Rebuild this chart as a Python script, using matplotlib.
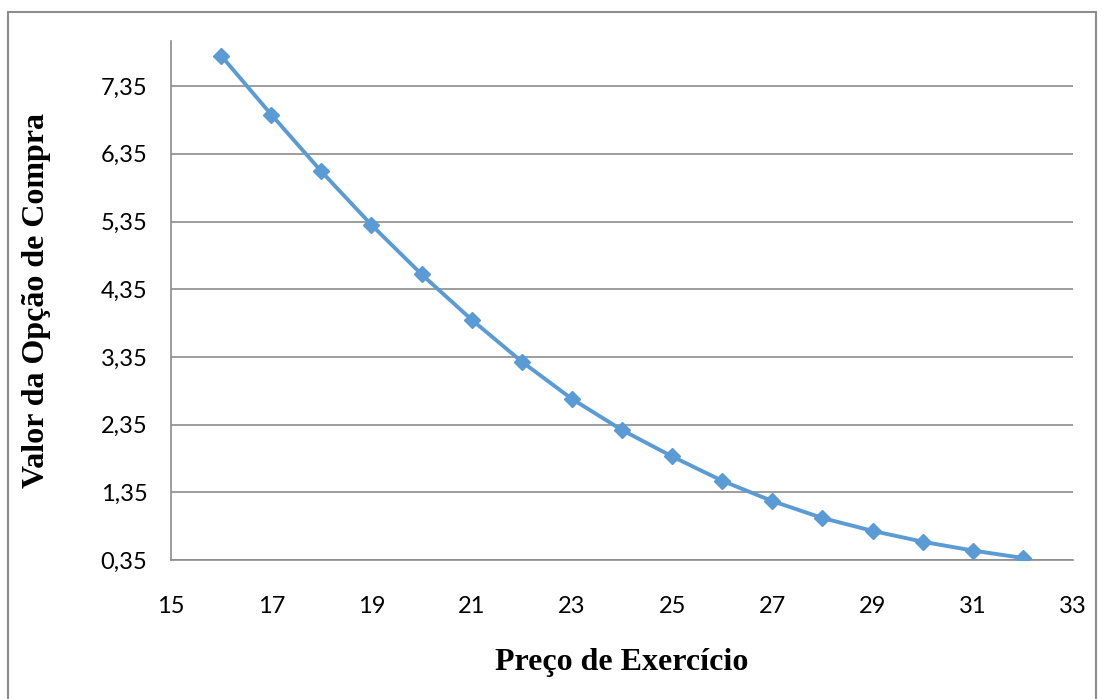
# -*- coding: utf-8 -*-
import matplotlib
matplotlib.use("Agg")
import matplotlib.pyplot as plt
from matplotlib.patches import Rectangle
from matplotlib.ticker import FuncFormatter

# preço de exercício e valor da opção de compra
strike = [16, 17, 18, 19, 20, 21, 22, 23, 24, 25, 26, 27, 28, 29, 30, 31, 32]
call_value = [7.80, 6.93, 6.09, 5.30, 4.57, 3.90, 3.28, 2.73, 2.27, 1.88,
              1.52, 1.22, 0.97, 0.78, 0.62, 0.49, 0.38]

x_ticks = list(range(15, 34, 2))
y_ticks = [0.35, 1.35, 2.35, 3.35, 4.35, 5.35, 6.35, 7.35]

line_color = "#5B9BD5"
grid_color = "#8C8C8C"


def comma(v, pos):
    return ("%.2f" % v).replace(".", ",")


def plot():
    fig = plt.figure(figsize=(11.02, 6.99), dpi=100)
    # outer chart border
    fig.patches.append(Rectangle((8 / 1102, -0.01), 1088 / 1102, 1 - 12 / 699 + 0.01,
                                 transform=fig.transFigure, fill=False,
                                 edgecolor="#8C8C8C", lw=1.5))
    ax = fig.add_axes([171 / 1102, 1 - 560 / 699, (1073 - 171) / 1102, (560 - 41) / 699])

    # draw line with diamond markers
    ax.plot(strike, call_value, "-", color=line_color, lw=2.8,
            marker="D", ms=8.5, zorder=3)

    ax.set_xlim(15, 33)
    ax.set_ylim(0.35, 0.35 + 519 / 67.7)
    ax.set_xticks(x_ticks)
    ax.set_yticks(y_ticks)
    ax.yaxis.set_major_formatter(FuncFormatter(comma))

    ax.grid(axis="y", color=grid_color, lw=1.2)
    ax.set_axisbelow(True)
    for s in ["top", "right"]:
        ax.spines[s].set_visible(False)
    ax.spines["left"].set_color(grid_color)
    ax.spines["bottom"].set_color(grid_color)
    ax.spines["left"].set_linewidth(1.2)
    ax.spines["bottom"].set_linewidth(1.2)
    ax.tick_params(length=0, labelsize=17)
    ax.tick_params(axis="y", pad=17)
    ax.tick_params(axis="x", pad=26)
    for lab in ax.get_xticklabels() + ax.get_yticklabels():
        lab.set_family(["Lato", "DejaVu Sans"])

    serif = ["Liberation Serif", "DejaVu Serif"]
    ax.set_xlabel("Preço de Exercício", family=serif, fontweight="bold",
                  fontsize=23, labelpad=22)
    ax.set_ylabel("Valor da Opção de Compra", family=serif, fontweight="bold",
                  fontsize=23, labelpad=36)

    fig.savefig("out.png", dpi=100)


if __name__ == "__main__":
    plot()
